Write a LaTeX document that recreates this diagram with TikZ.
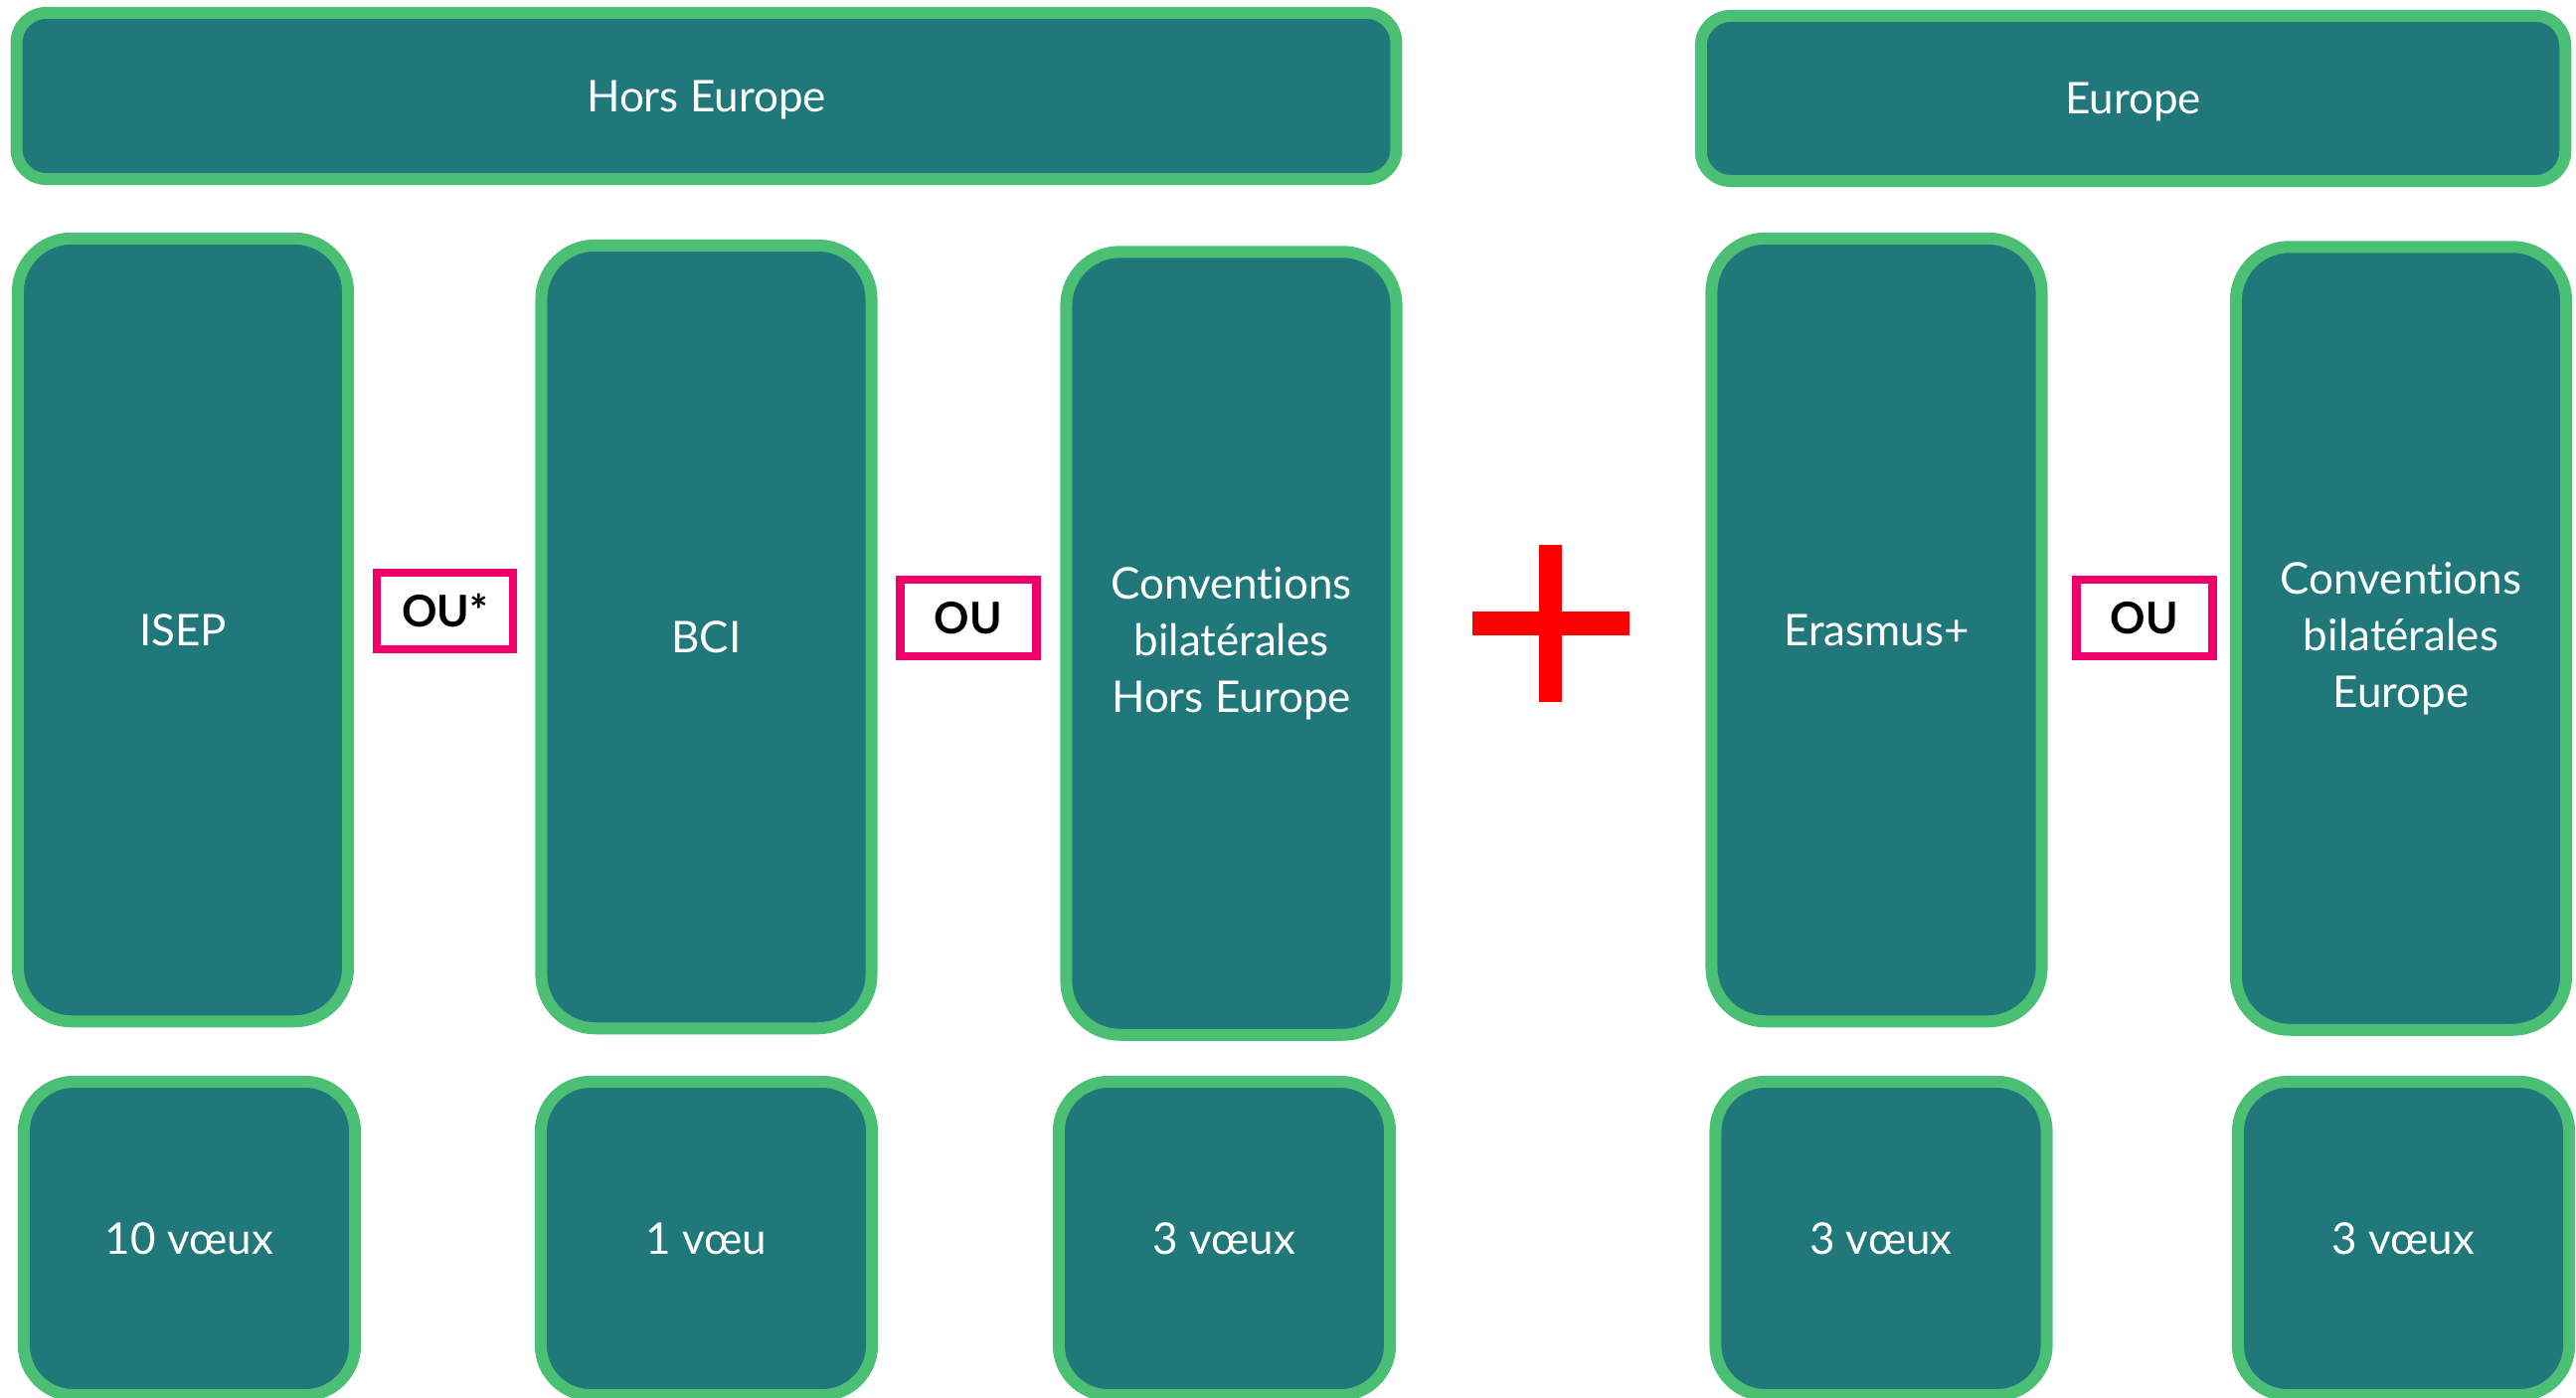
\documentclass[tikz,border=0pt]{standalone}
\usepackage{fontspec}
\setmainfont{Lato}[Ligatures=CommonOff]
\definecolor{sarcelle}{RGB}{33,120,122}
\definecolor{vertbord}{RGB}{75,191,116}
\definecolor{rose}{RGB}{240,0,106}
\definecolor{rouge}{RGB}{255,0,0}
\tikzset{
  cadre/.style={draw=vertbord,fill=sarcelle,line width=0.12cm,text=white,inner sep=0pt,font=\fontsize{12.5pt}{16.2pt}\selectfont},
  ligne/.style={text height=0.31cm,text depth=0pt},
  titre/.style={cadre,ligne,minimum width=#1,minimum height=1.67cm,rounded corners=0.30cm},
  colonne/.style={cadre,minimum width=3.32cm,minimum height=7.87cm,rounded corners=0.54cm,align=center},
  voeux/.style={cadre,ligne,minimum width=3.33cm,minimum height=3.15cm,rounded corners=0.50cm},
  ou/.style={draw=rose,fill=white,line width=0.085cm,ligne,minimum width=1.37cm,minimum height=0.77cm,inner sep=0pt,font=\bfseries\fontsize{12.5pt}{15pt}\selectfont}
}
\begin{document}
\begin{tikzpicture}[x=0.01cm,y=-0.01cm]
    \useasboundingbox (0,0) rectangle (2591,1405);
    \clip (0,0) rectangle (2591,1405);
    \node (hors) at (710.5,96.5) [titre=13.87cm] {Hors Europe};
    \node (eur) at (2145.5,99) [titre=8.69cm,minimum height=1.66cm] {Europe};
    \node (isep) at (184,633.5) [colonne,ligne] {ISEP};
    \node (bci) at (710.5,640.5) [colonne,ligne] {BCI};
    \node (convhe) at (1238.5,647) [colonne] {Conventions\\bilatérales\\Hors Europe};
    \node (erasmus) at (1887.5,633.5) [colonne,ligne] {Erasmus+};
    \node (conve) at (2415,642) [colonne] {Conventions\\bilatérales\\Europe};
    \node (visep) at (190.5,1245.5) [voeux] {10 vœux};
    \node (vbci) at (710.5,1245.5) [voeux] {1 vœu};
    \node (vconvhe) at (1231.5,1245.5) [voeux] {3 vœux};
    \node (verasmus) at (1892,1245.5) [voeux] {3 vœux};
    \node (vconve) at (2417.5,1245.5) [voeux] {3 vœux};
    \node (ouA) at (447.5,614.5) [ou] {OU*};
    \node (ouB) at (974,621.5) [ou] {OU};
    \node (ouC) at (2157,621.5) [ou] {OU};
    \fill[rouge] (1548,548) rectangle (1571,706);
    \fill[rouge] (1481,615) rectangle (1639,639);
\end{tikzpicture}
\end{document}
